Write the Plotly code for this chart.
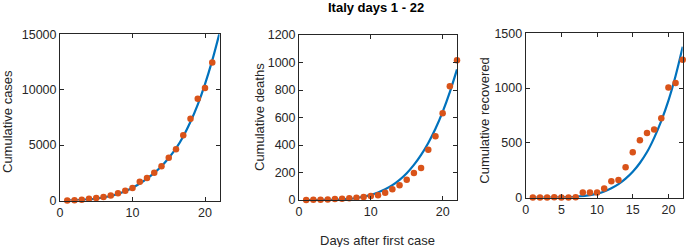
import plotly.graph_objects as go

# ---- data ----
days = list(range(1, 23))
cases = [3, 20, 62, 155, 229, 322, 453, 655, 888, 1128, 1694, 2036, 2502, 3089,
         3858, 4636, 5883, 7375, 9172, 10149, 12462, 15113]
deaths = [0, 1, 2, 3, 7, 10, 12, 17, 21, 29, 34, 52, 79, 107, 148, 197, 233,
          366, 463, 631, 827, 1016]
recovered = [0, 0, 1, 2, 1, 1, 3, 45, 46, 46, 83, 149, 160, 276, 414, 523, 589,
             622, 724, 1004, 1045, 1258]

# fitted curves
cases_fit = [5, 20, 50, 100, 170, 270, 410, 590, 830, 1150, 1520, 1980, 2500,
             3100, 3840, 4700, 5780, 7100, 8650, 10500, 12650, 15100]
deaths_fit = [0, 0.05, 0.3, 0.8, 2, 4.4, 8.5, 14.6, 23.5, 37, 55, 78, 108, 147,
              195, 255, 328, 415, 518, 641, 785, 950]
recovered_fit = [0, 0, 0.1, 0.5, 1.5, 3.5, 7, 13, 22, 35, 55, 84, 122, 172, 235,
                 315, 415, 545, 700, 885, 1110, 1377]

y_titles = ["Cumulative cases", "Cumulative deaths", "Cumulative recovered"]
x_ticks = [[0, 10, 20], [0, 10, 20], [0, 5, 10, 15, 20]]
y_ticks = [[0, 5000, 10000, 15000], [0, 200, 400, 600, 800, 1000, 1200],
           [0, 500, 1000, 1500]]
y_ranges = [[0, 15000], [0, 1200], [0, 1500]]
title_text = "Italy days 1 - 22"
x_title = "Days after first case"

W, H = 690, 247
BLUE = "#0072BD"
ORANGE = "#D95319"
INK = "#262626"
FONT = "Liberation Sans, Arial, Helvetica, sans-serif"

# panel pixel boxes: (left, right, top, bottom)
boxes = [(60, 219.5, 34.3, 200.5), (299, 457, 35, 200), (525.7, 682.7, 33.3, 197.5)]

fig = go.Figure()
series = [(cases, cases_fit), (deaths, deaths_fit), (recovered, recovered_fit)]
for i, (obs, fit) in enumerate(series):
    xa = "x" if i == 0 else f"x{i+1}"
    ya = "y" if i == 0 else f"y{i+1}"
    fig.add_trace(go.Scatter(x=days, y=fit, mode="lines", line=dict(color=BLUE, width=2.2, shape="spline"),
                             xaxis=xa, yaxis=ya, showlegend=False, cliponaxis=False))
    fig.add_trace(go.Scatter(x=days, y=obs, mode="markers", marker=dict(color=ORANGE, size=6.5),
                             xaxis=xa, yaxis=ya, showlegend=False, cliponaxis=False))

layout = dict(width=W, height=H, autosize=False, margin=dict(l=0, r=0, t=0, b=0, pad=0),
              paper_bgcolor="white", plot_bgcolor="white",
              font=dict(family=FONT, size=12.5, color=INK))
annotations = []
for i, (l, r, t, b) in enumerate(boxes):
    sx = "" if i == 0 else str(i + 1)
    axis_common = dict(showgrid=False, zeroline=False, showline=True, linecolor=INK, linewidth=1,
                       mirror="ticks", ticks="inside", ticklen=4, tickwidth=1, tickcolor=INK,
                       tickfont=dict(family=FONT, size=12.5, color=INK), automargin=False)
    layout["xaxis" + sx] = dict(axis_common, domain=[l / W, r / W], range=[0, 22],
                                tickvals=x_ticks[i], ticktext=[str(v) for v in x_ticks[i]],
                                anchor="y" + sx)
    layout["yaxis" + sx] = dict(axis_common, domain=[(H - b) / H, (H - t) / H], range=y_ranges[i],
                                tickvals=y_ticks[i], ticktext=[str(v) for v in y_ticks[i]],
                                anchor="x" + sx)

ytitle_pos = [(7.3, 121.7), (259.3, 116.7), (485, 120.7)]
for i, (px, py) in enumerate(ytitle_pos):
    annotations.append(dict(text=y_titles[i], x=px / W, y=1 - py / H, xref="paper", yref="paper",
                            showarrow=False, textangle=-90, xanchor="center", yanchor="middle",
                            font=dict(family=FONT, size=13, color=INK)))
annotations.append(dict(text="<b>" + title_text + "</b>", x=376 / W, y=1 - 7.5 / H, xref="paper", yref="paper",
                        showarrow=False, xanchor="center", yanchor="middle",
                        font=dict(family=FONT, size=13, color="black")))
annotations.append(dict(text=x_title, x=377 / W, y=1 - 240 / H, xref="paper", yref="paper",
                        showarrow=False, xanchor="center", yanchor="middle",
                        font=dict(family=FONT, size=13, color=INK)))
layout["annotations"] = annotations
fig.update_layout(**layout)
fig.write_html("out.html",
               config={"responsive": False, "displayModeBar": False, "staticPlot": True},
               post_script="document.body.style.margin='0';document.body.style.overflow='hidden';")
